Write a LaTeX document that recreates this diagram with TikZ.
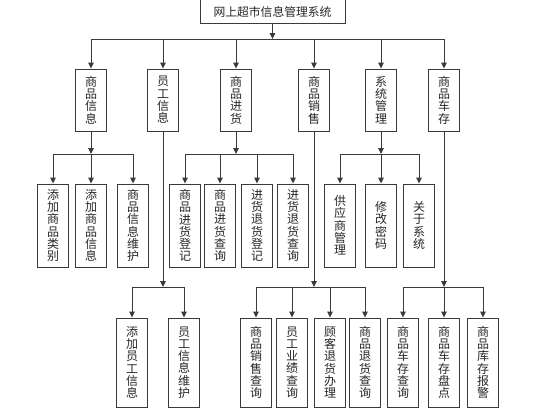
\documentclass[tikz,border=0pt]{standalone}
\usepackage{fontspec}
\newfontfamily\cjk{Noto Sans CJK SC}
\usetikzlibrary{arrows.meta}
\definecolor{ln}{HTML}{3A3A3A}
\tikzset{
  box/.style={draw=ln, line width=0.9pt, inner sep=0pt, align=center, text=black!85,
    font={\cjk\fontsize{12}{12.3}\selectfont}},
  lvone/.style={box, minimum width=31pt, minimum height=62pt},
  lvtwo/.style={box, minimum width=31pt, minimum height=83pt},
  lvthree/.style={box, minimum width=31pt, minimum height=89pt},
  conn/.style={draw=ln, line width=0.9pt},
  arr/.style={conn, -{Triangle[length=6pt,width=5.5pt]}},
}
\begin{document}
\begin{tikzpicture}[x=1pt,y=-1pt]
\useasboundingbox (0,0) rectangle (536,415);
% root
\node[box, minimum width=145pt, minimum height=23.5pt, font={\cjk\fontsize{11.8}{13}\selectfont}] (root) at (272.5,11.5) {网上超市信息管理系统};
% level 1
\node[lvone] (a1) at (91,100) {商\\品\\信\\息};
\node[lvone] (a2) at (163,100) {员\\工\\信\\息};
\node[lvone] (a3) at (236,100) {商\\品\\进\\货};
\node[lvone] (a4) at (314,100) {商\\品\\销\\售};
\node[lvone] (a5) at (381,100) {系\\统\\管\\理};
\node[lvone] (a6) at (444,100) {商\\品\\车\\存};
% level 2
\node[lvtwo] (b11) at (53,225.5) {添\\加\\商\\品\\类\\别};
\node[lvtwo] (b12) at (91,225.5) {添\\加\\商\\品\\信\\息};
\node[lvtwo] (b13) at (133,225.5) {商\\品\\信\\息\\维\\护};
\node[lvtwo] (b31) at (185,225.5) {商\\品\\进\\货\\登\\记};
\node[lvtwo] (b32) at (220,225.5) {商\\品\\进\\货\\查\\询};
\node[lvtwo] (b33) at (257,225.5) {进\\货\\退\\货\\登\\记};
\node[lvtwo] (b34) at (293,225.5) {进\\货\\退\\货\\查\\询};
\node[lvtwo] (b51) at (340,225.5) {供\\应\\商\\管\\理};
\node[lvtwo] (b52) at (381,225.5) {修\\改\\密\\码};
\node[lvtwo] (b53) at (419,225.5) {关\\于\\系\\统};
% level 3
\node[lvthree] (c21) at (132,362.5) {添\\加\\员\\工\\信\\息};
\node[lvthree] (c22) at (184,362.5) {员\\工\\信\\息\\维\\护};
\node[lvthree] (c41) at (256,362.5) {商\\品\\销\\售\\查\\询};
\node[lvthree] (c42) at (292,362.5) {员\\工\\业\\绩\\查\\询};
\node[lvthree] (c43) at (330,362.5) {顾\\客\\退\\货\\办\\理};
\node[lvthree] (c44) at (365,362.5) {商\\品\\退\\货\\查\\询};
\node[lvthree] (c61) at (403,362.5) {商\\品\\车\\存\\查\\询};
\node[lvthree] (c62) at (444,362.5) {商\\品\\车\\存\\盘\\点};
\node[lvthree] (c63) at (483,362.5) {商\\品\\库\\存\\报\\警};
% bar coordinates
\coordinate (r0) at (272.5,39);
\coordinate (r1) at (91,154);
\coordinate (r3) at (236,154);
\coordinate (r5) at (381,154);
\coordinate (r2) at (163,287);
\coordinate (r4) at (314,287);
\coordinate (r6) at (444,287);
% root -> level 1
\draw[arr] (root) -- (r0);
\draw[conn] (a1.north |- r0) -- (a6.north |- r0);
\foreach \n in {a1,a2,a3,a4,a5,a6} \draw[arr] (\n.north |- r0) -- (\n.north);
% level 1 -> level 2
\draw[arr] (a1) -- (r1);
\draw[conn] (b11.north |- r1) -- (b13.north |- r1);
\foreach \n in {b11,b12,b13} \draw[arr] (\n.north |- r1) -- (\n.north);
\draw[arr] (a3) -- (r3);
\draw[conn] (b31.north |- r3) -- (b34.north |- r3);
\foreach \n in {b31,b32,b33,b34} \draw[arr] (\n.north |- r3) -- (\n.north);
\draw[arr] (a5) -- (r5);
\draw[conn] (b51.north |- r5) -- (b53.north |- r5);
\foreach \n in {b51,b52,b53} \draw[arr] (\n.north |- r5) -- (\n.north);
% level 1 -> level 3
\draw[arr] (a2) -- (r2);
\draw[conn] (c21.north |- r2) -- (c22.north |- r2);
\foreach \n in {c21,c22} \draw[arr] (\n.north |- r2) -- (\n.north);
\draw[arr] (a4) -- (r4);
\draw[conn] (c41.north |- r4) -- (c44.north |- r4);
\foreach \n in {c41,c42,c43,c44} \draw[arr] (\n.north |- r4) -- (\n.north);
\draw[arr] (a6) -- (r6);
\draw[conn] (c61.north |- r6) -- (c63.north |- r6);
\foreach \n in {c61,c62,c63} \draw[arr] (\n.north |- r6) -- (\n.north);
\end{tikzpicture}
\end{document}
